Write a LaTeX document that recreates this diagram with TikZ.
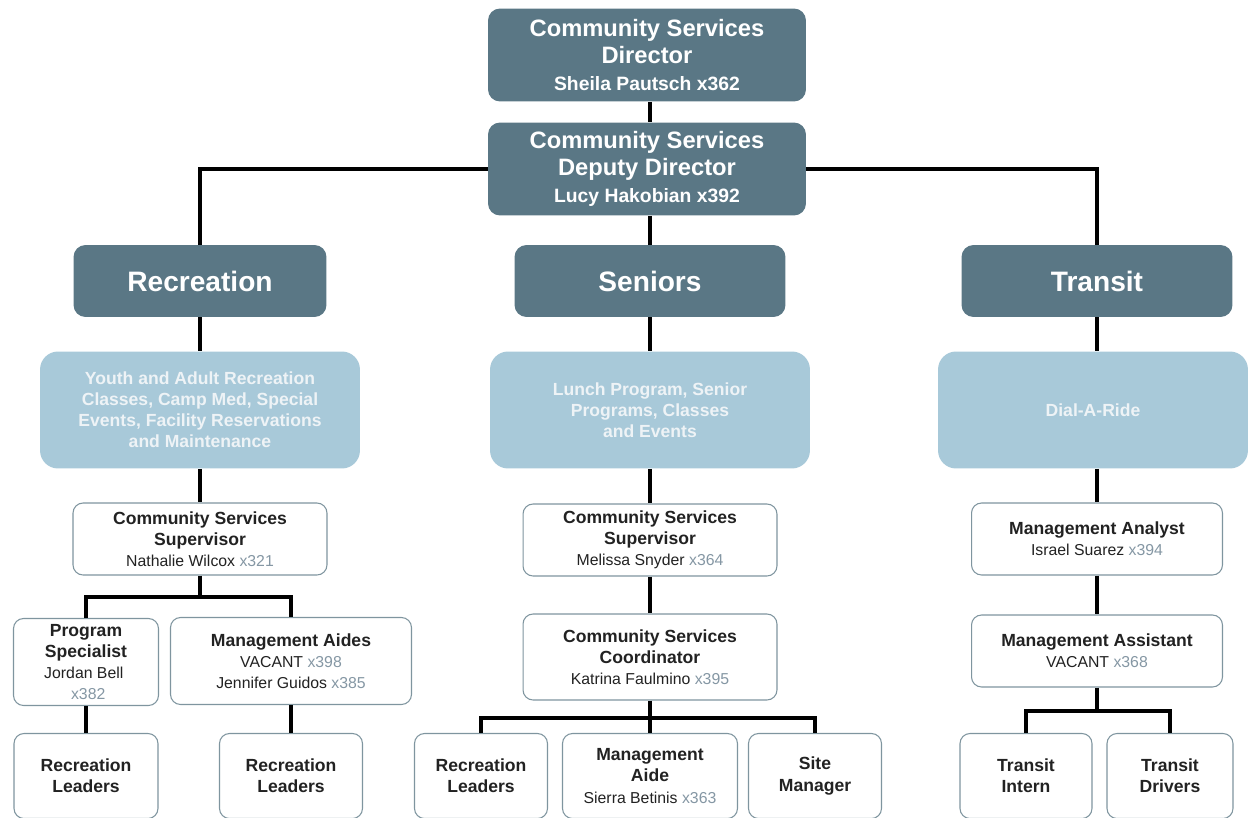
\documentclass[tikz,border=0pt]{standalone}
\usepackage{fontspec}
\setmainfont{Liberation Sans}

\definecolor{darkbox}{HTML}{5A7785}
\definecolor{lightbox}{HTML}{A8C9D9}
\definecolor{boxline}{HTML}{7F959F}
\definecolor{extno}{HTML}{8597A4}
\definecolor{inktext}{HTML}{222222}
\definecolor{paletext}{HTML}{EEF3F6}

% name line with extension number
\newcommand{\who}[2]{{\mdseries\fontsize{9}{12}\selectfont #1 \textcolor{extno}{#2}}}

\begin{document}
\begin{tikzpicture}[
        x=0.02cm, y=-0.02cm,
        head/.style={rectangle, rounded corners=0.24cm, fill=darkbox, text=white, align=center, inner sep=0pt, minimum width=6.36cm, minimum height=1.86cm, font=\bfseries\fontsize{13.5}{15.3}\selectfont},
        dept/.style={rectangle, rounded corners=0.24cm, fill=darkbox, text=white, align=center, inner sep=0pt, minimum height=1.44cm, font=\bfseries\fontsize{16}{19}\selectfont},
        area/.style={rectangle, rounded corners=0.36cm, fill=lightbox, text=paletext, align=center, inner sep=0pt, minimum width=6.4cm, minimum height=2.34cm, font=\bfseries\fontsize{10}{12}\selectfont},
        role/.style={rectangle, rounded corners=0.2cm, draw=boxline, line width=0.6pt, fill=white, text=inktext, align=center, inner sep=0pt, minimum height=1.44cm, font=\bfseries\fontsize{10}{12}\selectfont},
        link/.style={line width=2.3pt, black},
    ]
        \useasboundingbox (0,0) rectangle (1249,818);

        % Directors
        \node[head] (dir) at (647,55) {Community Services\\Director\\{\fontsize{11}{14}\selectfont Sheila Pautsch x362}};
        \node[head] (deputy) at (647,169) {Community Services\\Deputy Director\\{\fontsize{11}{14}\selectfont Lucy Hakobian x392}};

        % Divisions
        \node[dept, minimum width=5.06cm] (rec) at (200,281) {Recreation};
        \node[dept, minimum width=5.42cm] (sen) at (650,281) {Seniors};
        \node[dept, minimum width=5.42cm] (tra) at (1097,281) {Transit};

        % Program areas
        \node[area] (recarea) at (200,410) {Youth and Adult Recreation\\Classes, Camp Med, Special\\Events, Facility Reservations\\and Maintenance};
        \node[area] (senarea) at (650,410) {Lunch Program, Senior\\Programs, Classes\\and Events};
        \node[area, minimum width=6.2cm] (dialride) at (1093,410) {Dial-A-Ride};

        % Recreation staff
        \node[role, minimum width=5.08cm] (recsup) at (200,539) {Community Services\\Supervisor\\\who{Nathalie Wilcox}{x321}};
        \node[role, minimum width=2.9cm, minimum height=1.74cm] (progspec) at (86,662) {Program\\Specialist\\\who{Jordan Bell}{}\\\who{}{x382}};
        \node[role, minimum width=4.82cm, minimum height=1.74cm] (aides) at (291,661) {Management Aides\\\who{VACANT}{x398}\\\who{Jennifer Guidos}{x385}};
        \node[role, minimum width=2.88cm, minimum height=1.7cm] (recleadA) at (86,776) {Recreation\\Leaders};
        \node[role, minimum width=2.86cm, minimum height=1.7cm] (recleadB) at (291,776) {Recreation\\Leaders};

        % Seniors staff
        \node[role, minimum width=5.08cm] (sensup) at (650,540) {Community Services\\Supervisor\\\who{Melissa Snyder}{x364}};
        \node[role, minimum width=5.08cm, minimum height=1.72cm] (coord) at (650,657) {Community Services\\Coordinator\\\who{Katrina Faulmino}{x395}};
        \node[role, minimum width=2.66cm, minimum height=1.7cm] (recleadC) at (481,776) {Recreation\\Leaders};
        \node[role, minimum width=3.5cm, minimum height=1.7cm] (aide) at (650,776) {Management\\Aide\\\who{Sierra Betinis}{x363}};
        \node[role, minimum width=2.66cm, minimum height=1.7cm] (siteman) at (815,776) {Site\\Manager};

        % Transit staff
        \node[role, minimum width=5.02cm] (analyst) at (1097,539) {Management Analyst\\\who{Israel Suarez}{x394}};
        \node[role, minimum width=5.02cm] (assistant) at (1097,651) {Management Assistant\\\who{VACANT}{x368}};
        \node[role, minimum width=2.64cm, minimum height=1.7cm] (intern) at (1026,776) {Transit\\Intern};
        \node[role, minimum width=2.52cm, minimum height=1.7cm] (drivers) at (1170,776) {Transit\\Drivers};

        % Forks
        \coordinate (recfork) at (200,597);
        \coordinate (senfork) at (650,718);
        \coordinate (trafork) at (1097,711);

        % Lines
        \draw[link] (dir.south -| sen) -- (deputy.north -| sen);
        \draw[link] (deputy.west) -| (rec.north);
        \draw[link] (deputy.east) -| (tra.north);
        \draw[link] (deputy.south -| sen) -- (sen);
        \draw[link] (rec) -- (recarea);
        \draw[link] (recarea) -- (recsup);
        \draw[link] (recsup) -- (recfork);
        \draw[link] (recfork) -| (progspec.north);
        \draw[link] (recfork) -| (aides.north);
        \draw[link] (progspec) -- (recleadA);
        \draw[link] (aides) -- (recleadB);
        \draw[link] (sen) -- (senarea);
        \draw[link] (senarea) -- (sensup);
        \draw[link] (sensup) -- (coord);
        \draw[link] (coord) -- (senfork);
        \draw[link] (senfork) -| (recleadC.north);
        \draw[link] (senfork) -- (aide);
        \draw[link] (senfork) -| (siteman.north);
        \draw[link] (tra) -- (tra |- dialride.north);
        \draw[link] (dialride.south -| analyst) -- (analyst);
        \draw[link] (analyst) -- (assistant);
        \draw[link] (assistant) -- (trafork);
        \draw[link] (trafork) -| (intern.north);
        \draw[link] (trafork) -| (drivers.north);

    \end{tikzpicture}
\end{document}
